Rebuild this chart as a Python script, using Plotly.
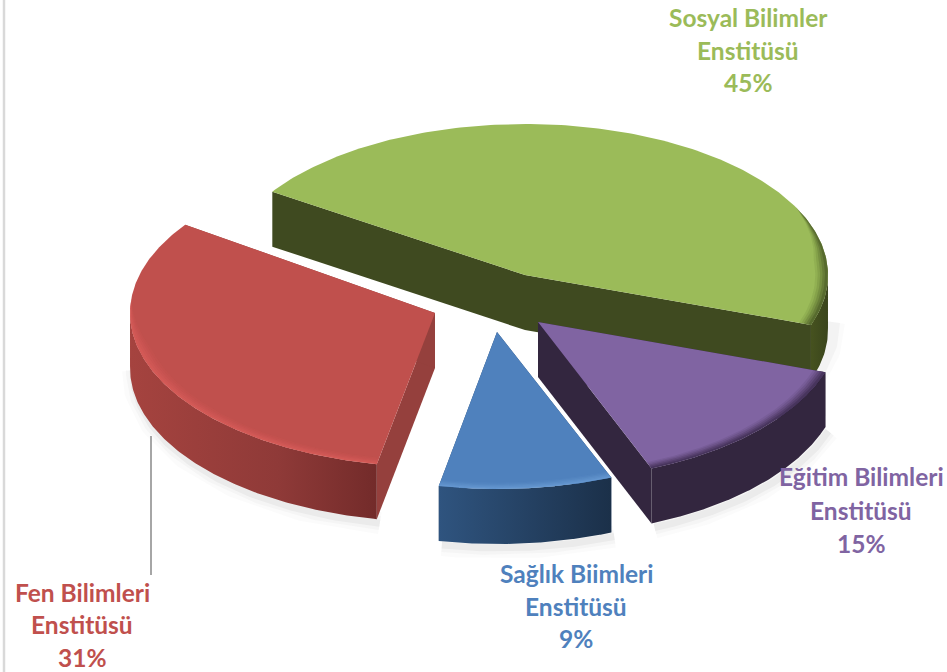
import numpy as np
import plotly.graph_objects as go

# Data
categories = ["Sosyal Bilimler Enstitüsü", "Eğitim Bilimleri Enstitüsü", "Sağlık Biimleri Enstitüsü", "Fen Bilimleri Enstitüsü"]
values = [45, 15, 9, 31]
label_lines = [["Sosyal Bilimler", "Enstitüsü", "45%"],
               ["Eğitim Bilimleri", "Enstitüsü", "15%"],
               ["Sağlık Biimleri", "Enstitüsü", "9%"],
               ["Fen Bilimleri", "Enstitüsü", "31%"]]

# Styling / projection
W, H = 947, 672
DEPTH = 55
START = 145.7
radii = [(303, 151), (303, 158), (305, 157), (305, 154)]
# perspective nudges the slice boundaries a little, degrees (start, end)
angle_nudge = [(0.8, -3.0), (-2.2, 2.3), (2.3, 1.7), (1.7, -0.7)]
apex = [(525, 275), (538, 322), (497, 332), (435, 313)]
top_col = ["#9bbb59", "#8064a2", "#4f81bd", "#c0504d"]
cut_col = ["#3f4a20", "#33263f", "#2a4a70", "#95403d"]
wall_scale = [[[0, "#46521f"], [1, "#3a451c"]],
              [[0, "#33263f"], [1, "#33263f"]],
              [[0, "#2f547f"], [1, "#1b3049"]],
              [[0, "#a5433f"], [0.6, "#8f3a38"], [1, "#732b2a"]]]
rim_col = ["62,75,30", "50,36,66", "110,160,215", "222,95,92"]
rim_start = [0.45, 0.1, 0.1, 0.1]
label_pos = [(748, [17, 50, 82]), (861, [476, 510, 543]), (576, [573, 606, 638]), (82, [592, 624, 657])]
draw_order = [0, 3, 2, 1]

fig = go.Figure()


def poly(x, y, color=None, gradient=None):
    kw = dict(fillgradient=dict(type="horizontal", colorscale=gradient)) if gradient else dict(fillcolor=color)
    fig.add_trace(go.Scatter(x=x, y=y, mode="lines", fill="toself", line=dict(width=0),
                             hoverinfo="skip", showlegend=False, **kw))


def stroke(x, y, color, width):
    fig.add_trace(go.Scatter(x=x, y=y, mode="lines", line=dict(color=color, width=width),
                             hoverinfo="skip", showlegend=False))


# Slice angles come from the values, clockwise from START
spans = np.array(values) / sum(values) * 360
ends = START - np.cumsum(spans)
starts = ends + spans

stroke([4, 4], [0, H], "#d9d9d9", 2.5)

for i in draw_order:
    cx, cy = apex[i]
    rx, ry = radii[i]
    t = np.radians(np.linspace(starts[i] + angle_nudge[i][0], ends[i] + angle_nudge[i][1], 200))
    ax = cx + rx * np.cos(t)
    ay = cy - ry * np.sin(t)

    # soft shadow under the front of the slice
    front = np.sin(t) <= 0.02
    if i != 0:
        for w, a in [(22, 0.025), (14, 0.04), (7, 0.06)]:
            stroke(ax[front] + 3, ay[front] + DEPTH + 4, f"rgba(90,90,90,{a})", w)
    else:
        for w, a in [(22, 0.025), (12, 0.05)]:
            stroke(ax[front] + 6, ay[front] + DEPTH - 6, f"rgba(90,90,90,{a})", w)

    # cut faces
    for k in (0, -1):
        poly([cx, ax[k], ax[k], cx, cx], [cy, ay[k], ay[k] + DEPTH, cy + DEPTH, cy], cut_col[i])

    # outer wall
    if front.any():
        fx, fy = ax[front], ay[front]
        poly(np.r_[fx, fx[::-1], fx[0]], np.r_[fy, fy[::-1] + DEPTH, fy[0]], gradient=wall_scale[i])

    # top face
    poly(np.r_[cx, ax, cx], np.r_[cy, ay, cy], top_col[i])

    # bevel along the rim: bands that taper out towards the back of the pie
    taper = np.clip((rim_start[i] - np.sin(t)) / 0.35, 0, 1)
    for d, a in [(0.042, 0.10), (0.034, 0.14), (0.026, 0.20), (0.018, 0.26), (0.010, 0.36)]:
        s = 1 - d * taper
        bx = cx + rx * s * np.cos(t)
        by = cy - ry * s * np.sin(t)
        keep = taper > 0
        poly(np.r_[ax[keep], bx[keep][::-1]], np.r_[ay[keep], by[keep][::-1]], f"rgba({rim_col[i]},{a})")
    if i == 3:
        # leader line of the red slice touches its wall from below
        stroke([151, 151], [436, 575], "#a6a6a6", 2)

annotations = []
for lines, col, (x, ys) in zip(label_lines, top_col, label_pos):
    for line, y in zip(lines, ys):
        annotations.append(dict(x=x, y=y, text=f"<b>{line}</b>", showarrow=False, xanchor="center", yanchor="middle",
                                font=dict(family="Lato", size=24.5, color=col)))

fig.update_layout(width=W, height=H, autosize=False, margin=dict(l=0, r=0, t=0, b=0),
                  paper_bgcolor="white", plot_bgcolor="white", showlegend=False, annotations=annotations,
                  xaxis=dict(range=[0, W], visible=False, fixedrange=True),
                  yaxis=dict(range=[H, 0], visible=False, fixedrange=True))
fig.write_html("out.html", config=dict(displayModeBar=False),
               post_script="document.body.style.margin='0';document.body.style.overflow='hidden';")
